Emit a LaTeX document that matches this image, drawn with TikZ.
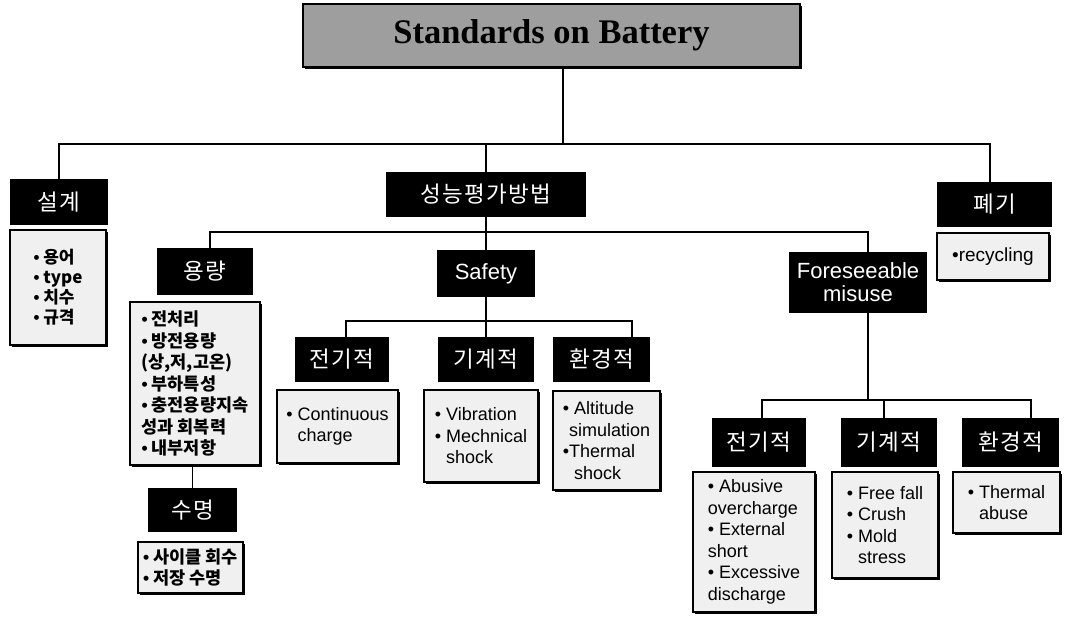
\documentclass[tikz,border=0pt]{standalone}
\usepackage{fontspec}
\setmainfont{Liberation Sans}
\newfontfamily\kr{Noto Sans CJK KR}
\newfontfamily\krh[LetterSpace=6]{Noto Sans CJK KR}
\newfontfamily\tms{Liberation Serif}
\newfontfamily\lib{Liberation Sans}
\usetikzlibrary{shadows}
\newcommand{\kb}{{\lib\textbullet}\ }
\newcommand{\eb}{\textbullet\ }
\newcommand{\hg}{\hphantom{\textbullet\ }}
\tikzset{
  wh/.style 2 args={minimum width=#1pt, minimum height=#2pt},
  ttl/.style={draw=black, line width=1.5pt, fill=black!38, inner sep=0pt,
    drop shadow={shadow xshift=1.5pt, shadow yshift=-1.5pt, fill=black, opacity=1},
    font=\tms\bfseries\fontsize{34.5}{38}\selectfont},
  hdr/.style={fill=black, text=white, inner sep=2pt, align=center,
    font=\krh\fontsize{22.5}{25}\selectfont},
  hdren/.style={hdr, font=\fontsize{22}{23}\selectfont},
  lst/.style={draw=black, line width=1.2pt, fill=black!6, align=left, inner sep=4pt,
    drop shadow={shadow xshift=1.6pt, shadow yshift=-1.6pt, fill=black, opacity=1},
    font=\fontsize{18}{21.5}\selectfont},
  klst/.style={lst, font=\kr\bfseries\fontsize{17.5}{21.5}\selectfont},
  conn/.style={line width=1.4pt, draw=black},
}
\begin{document}
\begin{tikzpicture}[x=1pt, y=-1pt]
\useasboundingbox[fill=white] (0,0) rectangle (1076,616);

% title
\node[ttl, wh={497}{63}] (title) at (551.5,35.5) {Standards on Battery};

% level 1
\node[hdr, wh={98}{46}] (seol) at (59,202) {설계};
\node[klst, wh={96}{115}, font=\kr\bfseries\fontsize{17}{20}\selectfont] (seolL) at (58,287.5) {\kb 용어\\\kb type\\\kb 치수\\\kb 규격};
\node[hdr, wh={200}{45}] (perf) at (486,194.5) {성능평가방법};
\node[hdr, wh={115}{45}] (pye) at (994.5,204.5) {폐기};
\node[lst, wh={112}{47}, font=\fontsize{19}{22}\selectfont] (pyeL) at (993,256.5) {\textbullet recycling};

% level 2
\node[hdr, wh={96}{47}] (yong) at (205,271.5) {용량};
\node[klst, wh={130}{163}, inner sep=2pt] (yongL) at (195,383.5) {\kb 전처리\\\kb 방전용량\\(상,저,고온)\\\kb 부하특성\\\kb 충전용량지속\\성과 회복력\\\kb 내부저항};
\node[hdr, wh={89}{44}] (su) at (192.5,510) {수명};
\node[klst, wh={105}{51}, inner sep=2pt] (suL) at (190.5,567.5) {\kb 사이클 회수\\\kb 저장 수명};

\node[hdren, wh={98}{47}] (safety) at (486,273.5) {Safety};
\node[hdren, wh={138}{61}] (fore) at (858,282.5) {Foreseeable\\misuse};

% safety children
\node[hdr, wh={94}{45}] (sje) at (342,359.5) {전기적};
\node[lst, wh={121}{73}] (sjeL) at (337.5,426.5) {\eb Continuous\\\hg charge};
\node[hdr, wh={96}{45}] (sgi) at (486,359.5) {기계적};
\node[lst, wh={114}{92}] (sgiL) at (481,436) {\eb Vibration\\\eb Mechnical\\\hg shock};
\node[hdr, wh={97}{45}] (shw) at (601.5,359.5) {환경적};
\node[lst, wh={107}{99}] (shwL) at (606.5,440.5) {\eb Altitude\\\hphantom{\textbullet}simulation\\\textbullet Thermal\\\hg shock};

% foreseeable children
\node[hdr, wh={94}{49}] (fje) at (759,442.5) {전기적};
\node[lst, wh={122}{140}] (fjeL) at (754,542) {\eb Abusive\\overcharge\\\eb External\\short\\\eb Excessive\\discharge};
\node[hdr, wh={96}{49}] (fgi) at (889,442.5) {기계적};
\node[lst, wh={106}{106}] (fgiL) at (885,525) {\eb Free fall\\\eb Crush\\\eb Mold\\\hg stress};
\node[hdr, wh={97}{49}] (fhw) at (1010.5,442.5) {환경적};
\node[lst, wh={107}{61}] (fhwL) at (1006.5,502.5) {\eb Thermal\\\hg abuse};

% connectors
\coordinate (b1) at (563,144);
\coordinate (b2) at (486,232);
\coordinate (b3) at (486,321);
\coordinate (b4) at (868,400);
\draw[conn] ([xshift=11.5pt]title.south) -- (b1);
\draw[conn] (seol.north) |- (b1) -| ([xshift=-4.5pt]pye.north);
\draw[conn] (perf.north) -- (perf.north |- b1);
\draw[conn] (perf.south) -- (safety.north);
\draw[conn] ([xshift=5pt]yong.north) |- (b2) -| ([xshift=10pt]fore.north);
\draw[conn] (su.north) -- (su.north |- yongL.south);
\draw[conn] (safety.south) -- (sgi.north);
\draw[conn] ([xshift=4pt]sje.north) |- (b3) -| ([xshift=30.5pt]shw.north);
\draw[conn] ([xshift=10pt]fore.south) -- (b4);
\draw[conn] ([xshift=3pt]fje.north) |- (b4) -| ([xshift=20.5pt]fhw.north);
\draw[conn] ([xshift=-5pt]fgi.north) -- ([xshift=-5pt]fgi.north |- b4);
\end{tikzpicture}
\end{document}
